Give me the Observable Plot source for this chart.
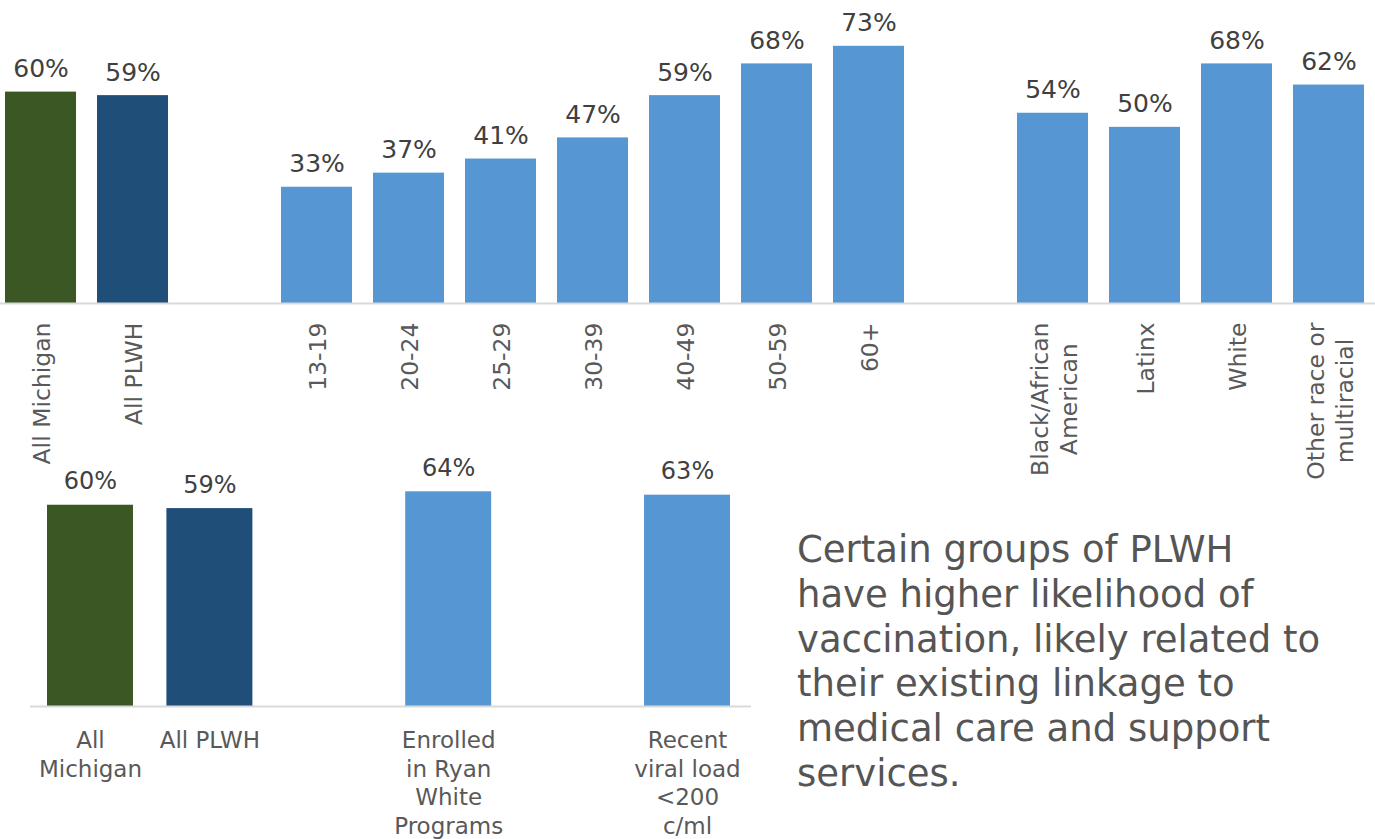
<!DOCTYPE html>
<html>
<head>
<meta charset="utf-8">
<script src="https://cdn.jsdelivr.net/npm/d3@7"></script>
<script src="https://cdn.jsdelivr.net/npm/@observablehq/plot@0.6"></script>
<style>
  html, body { margin: 0; padding: 0; background: #ffffff; }
  body { width: 1375px; height: 839px; position: relative; overflow: hidden; font-family: "DejaVu Sans", Verdana, sans-serif; }
  #top { position: absolute; left: 0; top: 0; }
  #bottom { position: absolute; left: 0; top: 440px; }
  #note { position: absolute; left: 797px; top: 528px; font-size: 37px; line-height: 44.8px; color: #555555; white-space: pre; }
  svg { overflow: visible; }
</style>
</head>
<body>
<div id="top"></div>
<div id="bottom"></div>
<div id="note"></div>
<script>
// ---- Top chart data ----
const topCategories = ["All Michigan", "All PLWH", "13-19", "20-24", "25-29", "30-39", "40-49", "50-59", "60+", "Black/African\nAmerican", "Latinx", "White", "Other race or\nmultiracial"];
const topValues = [60, 59, 33, 37, 41, 47, 59, 68, 73, 54, 50, 68, 62];
const topKinds = ["state", "plwh", "group", "group", "group", "group", "group", "group", "group", "group", "group", "group", "group"];
const topSlots = ["All Michigan", "All PLWH", "gap1", "13-19", "20-24", "25-29", "30-39", "40-49", "50-59", "60+", "gap2", "Black/African\nAmerican", "Latinx", "White", "Other race or\nmultiracial"];

// ---- Bottom chart data ----
const bottomCategories = ["All\nMichigan", "All PLWH", "Enrolled\nin Ryan\nWhite\nPrograms", "Recent\nviral load\n<200\nc/ml"];
const bottomValues = [60, 59, 64, 63];
const bottomKinds = ["state", "plwh", "group", "group"];
const bottomSlots = ["All\nMichigan", "All PLWH", "gapA", "Enrolled\nin Ryan\nWhite\nPrograms", "gapB", "Recent\nviral load\n<200\nc/ml"];

const noteText = "Certain groups of PLWH\nhave higher likelihood of\nvaccination, likely related to\ntheir existing linkage to\nmedical care and support\nservices.";

const kindColors = {state: "#3a5724", plwh: "#1f4e78", group: "#5596d3"};

const topData = topCategories.map((c, i) => ({cat: c, value: topValues[i], kind: topKinds[i]}));
const bottomData = bottomCategories.map((c, i) => ({cat: c, value: bottomValues[i], kind: bottomKinds[i]}));

const font = "DejaVu Sans, Verdana, sans-serif";

const topPlot = Plot.plot({
  width: 1375,
  height: 480,
  marginTop: 0,
  marginBottom: 177,
  marginLeft: 0,
  marginRight: 0,
  style: {fontFamily: font, background: "transparent", overflow: "visible"},
  x: {domain: topSlots, range: [5, 1364], paddingInner: 0.228, paddingOuter: 0, round: false, axis: null},
  y: {domain: [0, 86], axis: null},
  marks: [
    Plot.barY(topData, {x: "cat", y: "value", fill: d => kindColors[d.kind]}),
    Plot.ruleY([0], {stroke: "#d9d9d9", strokeWidth: 2}),
    Plot.text(topData, {x: "cat", y: "value", text: d => `${d.value}%`, lineAnchor: "bottom", dy: -15, fontSize: 25, fill: "#404040"}),
    Plot.text(topData, {x: "cat", y: 0, text: "cat", rotate: -90, textAnchor: "end", lineAnchor: "middle", lineHeight: 1.25, dy: 19, fontSize: 23.5, fill: "#595959", className: "toplab"})
  ]
});
document.getElementById("top").appendChild(topPlot);

// center multi-line rotated labels within their block (block end aligned to axis)
topPlot.querySelectorAll(".toplab text").forEach(t => {
  const spans = t.querySelectorAll("tspan");
  if (spans.length > 1) {
    let L = 0;
    spans.forEach(s => { L = Math.max(L, s.getComputedTextLength()); });
    t.setAttribute("text-anchor", "middle");
    spans.forEach(s => s.setAttribute("x", -L / 2));
  }
});

const bottomPlot = Plot.plot({
  width: 760,
  height: 399,
  marginTop: 0,
  marginBottom: 133,
  marginLeft: 30,
  marginRight: 9,
  style: {fontFamily: font, background: "transparent", overflow: "visible"},
  x: {domain: bottomSlots, range: [47, 730], paddingInner: 0.28, paddingOuter: 0, round: false, axis: null},
  y: {domain: [0, 79.3], axis: null},
  marks: [
    Plot.barY(bottomData, {x: "cat", y: "value", fill: d => kindColors[d.kind]}),
    Plot.ruleY([0], {stroke: "#d9d9d9", strokeWidth: 2}),
    Plot.text(bottomData, {x: "cat", y: "value", text: d => `${d.value}%`, lineAnchor: "bottom", dy: -16, fontSize: 24, fill: "#404040"}),
    Plot.text(bottomData, {x: "cat", y: 0, text: "cat", lineAnchor: "top", textAnchor: "middle", lineHeight: 1.25, dy: 21, fontSize: 23, fill: "#595959"})
  ]
});
document.getElementById("bottom").appendChild(bottomPlot);

document.getElementById("note").textContent = noteText;
</script>
</body>
</html>
